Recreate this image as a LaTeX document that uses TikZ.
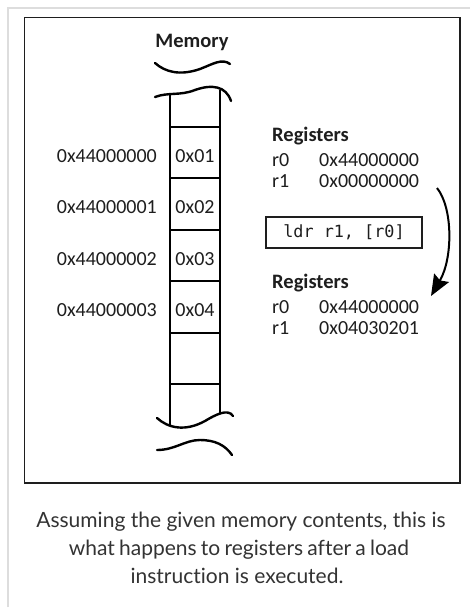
\documentclass[tikz,border=0pt]{standalone}
\usepackage{fontspec}
\setmainfont{Carlito}
\setmonofont{DejaVu Sans Mono}
\newfontfamily\capfont[Ligatures=NoCommon]{Lato}
\usetikzlibrary{arrows.meta}
\definecolor{framegray}{HTML}{DDDDDD}
\definecolor{inkc}{HTML}{1E1E1E}
\definecolor{capc}{HTML}{333333}
\tikzset{
  lbl/.style={inner sep=0pt, font=\fontsize{20}{24}\selectfont, text=inkc},
  boldlbl/.style={inner sep=0pt, font=\fontsize{20.5}{24}\selectfont\bfseries, text=inkc},
  cellbox/.style={draw=black, line width=2pt, minimum width=50pt, minimum height=51.4pt, inner sep=0pt},
  memline/.style={draw=black, line width=2pt},
  wave/.style={draw=black, line width=2.4pt, line cap=round},
  instrbox/.style={draw=inkc, line width=1.5pt, minimum width=156pt, minimum height=31pt, inner sep=0pt,
    font=\ttfamily\fontsize{16.8}{20}\selectfont, text=inkc},
  captxt/.style={inner sep=0pt, font=\capfont\fontsize{21}{28}\selectfont, text=capc},
  flowarrow/.style={draw=black, line width=2pt, -{Stealth[length=21pt,width=17pt,inset=3pt]}},
}
\begin{document}
\begin{tikzpicture}[x=1pt,y=-1pt]
\useasboundingbox (0,0) rectangle (470,610);
\fill[white] (0,0) rectangle (470,610);
% outer frames
\draw[framegray, line width=2pt] (8,607) -- (8,8) -- (470,8);
\draw[inkc, line width=1.6pt] (24.5,17.5) rectangle (460,483);

% memory title and break marks
\node[boldlbl, anchor=base] (mem) at (192,48) {Memory};
\draw[wave] (155,63) .. controls (165,72) and (180,76) .. (200,69) .. controls (213,64) and (222,58) .. (230,64);
\draw[wave] (155,97) .. controls (168,92) and (180,96) .. (195,90) .. controls (212,84) and (226,86) .. (231,101);
\draw[wave] (157,418) .. controls (168,428) and (185,432) .. (205,421) .. controls (215,415) and (228,408) .. (233,416);
\draw[wave] (157,450) .. controls (175,450) and (185,440) .. (200,440) .. controls (215,440) and (225,445) .. (232,455);

% memory column
\draw[memline] (170,94) -- (170,425);
\draw[memline] (220,90) -- (220,413);
\node[cellbox] (c1) at (195,152.7) {};
\node[cellbox] (c2) at (195,204.1) {};
\node[cellbox] (c3) at (195,255.5) {};
\node[cellbox] (c4) at (195,306.9) {};
\node[cellbox] (c5) at (195,358.3) {};

\node[lbl] (v1) at (195,156) {0x01};
\node[lbl] (v2) at (195,207.5) {0x02};
\node[lbl] (v3) at (195,259) {0x03};
\node[lbl] (v4) at (195,310) {0x04};

\node[lbl, anchor=east] (a1) at (157,156) {0x44000000};
\node[lbl, anchor=east] (a2) at (157,207.5) {0x44000001};
\node[lbl, anchor=east] (a3) at (157,259) {0x44000002};
\node[lbl, anchor=east] (a4) at (157,310) {0x44000003};

% registers before
\node[boldlbl, anchor=base west] (regA) at (272,141) {Registers};
\node[lbl, anchor=base west] (rA0) at (272,166) {r0};
\node[lbl, anchor=base west] (rA0v) at (319,166) {0x44000000};
\node[lbl, anchor=base west] (rA1) at (272,187) {r1};
\node[lbl, anchor=base west] (rA1v) at (319,187) {0x00000000};

% instruction
\node[instrbox] (ins) at (344,232.5) {ldr r1, [r0]};

% registers after
\node[boldlbl, anchor=base west] (regB) at (272,288) {Registers};
\node[lbl, anchor=base west] (rB0) at (272,313) {r0};
\node[lbl, anchor=base west] (rB0v) at (319,313) {0x44000000};
\node[lbl, anchor=base west] (rB1) at (272,334) {r1};
\node[lbl, anchor=base west] (rB1v) at (319,334) {0x04030201};

% arrow
\coordinate (arrS) at (437,188);
\coordinate (arrE) at (431,296);
\draw[flowarrow] (arrS) .. controls (453,208) and (453,258) .. (arrE);

% caption
\node[captxt, anchor=base] (cap1) at (241,527) {Assuming the given memory contents, this is};
\node[captxt, anchor=base] (cap2) at (239,555) {\spaceskip=0.2em plus 0.05em what happens to registers after a load};
\node[captxt, anchor=base] (cap3) at (237,583) {instruction is executed.};
\end{tikzpicture}
\end{document}
